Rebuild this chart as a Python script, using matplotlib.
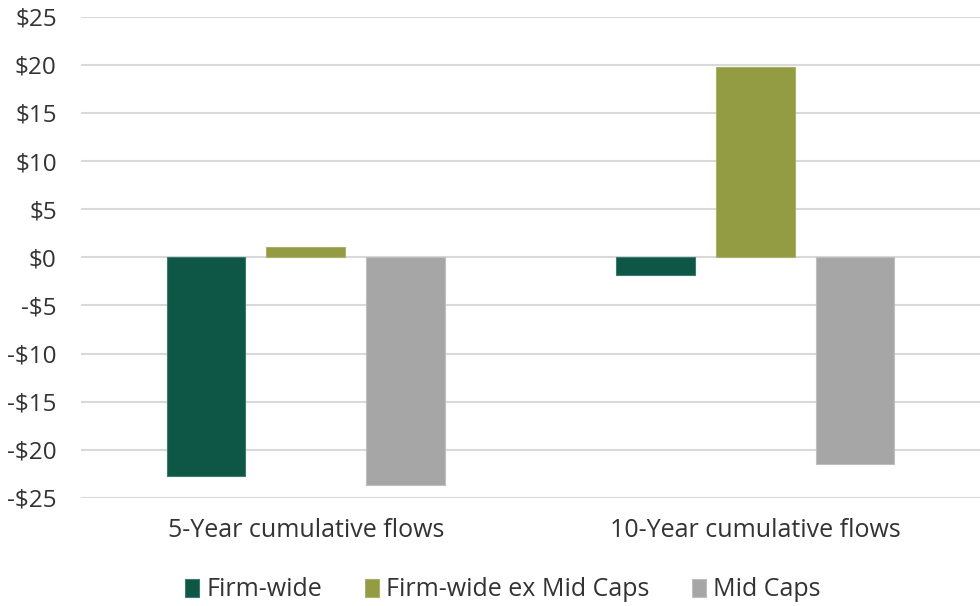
import matplotlib
matplotlib.use("Agg")
import matplotlib.pyplot as plt
import numpy as np

categories = ["5-Year cumulative flows", "10-Year cumulative flows"]
series_names = ["Firm-wide", "Firm-wide ex Mid Caps", "Mid Caps"]
firm_wide = [-22.7, -1.8]
firm_wide_ex_mid = [1.1, 19.8]
mid_caps = [-23.7, -21.5]
yticks = [-25, -20, -15, -10, -5, 0, 5, 10, 15, 20, 25]
ytick_labels = ["-$25", "-$20", "-$15", "-$10", "-$5", "$0", "$5", "$10", "$15", "$20", "$25"]

colors = ["#0E5747", "#939C43", "#A6A6A6"]
edge_colors = ["#3F7A6C", "#A8B06A", "#BEBEBE"]

plt.rcParams['font.family'] = ['Open Sans', 'DejaVu Sans']
fig = plt.figure(figsize=(9.8, 6.06), dpi=100)
ax = fig.add_axes([81/980, (606-498)/606, 1 - 81/980, (498-16.7)/606])

x = np.arange(len(categories))
width = 0.175
offsets = [-0.222, 0.0, 0.222]
data = [firm_wide, firm_wide_ex_mid, mid_caps]
for i, (vals, name) in enumerate(zip(data, series_names)):
    ax.bar(x + offsets[i], vals, width, color=colors[i], label=name,
           edgecolor=edge_colors[i], linewidth=0.8, zorder=3)

ax.set_xlim(-0.5, 1.5)
ax.set_ylim(-25, 25)
ax.set_yticks(yticks)
ax.set_yticklabels(ytick_labels)
ax.set_xticks(x)
ax.set_xticklabels(categories)
ax.grid(axis='y', color='#D9D9D9', linewidth=1.5, zorder=0)
for s in ax.spines.values():
    s.set_visible(False)
ax.tick_params(axis='y', length=0, labelsize=17.5, colors='#333333', pad=17.5)
ax.tick_params(axis='x', length=0, labelsize=18, colors='#333333', pad=14.5)

leg = fig.legend(loc='center', bbox_to_anchor=(503/980, 1 - 590/606), ncol=3,
                 frameon=False, fontsize=18, handlelength=0.55, handleheight=0.75,
                 handletextpad=0.3, columnspacing=1.7, labelcolor='#333333')

fig.savefig("out.png", dpi=100)
